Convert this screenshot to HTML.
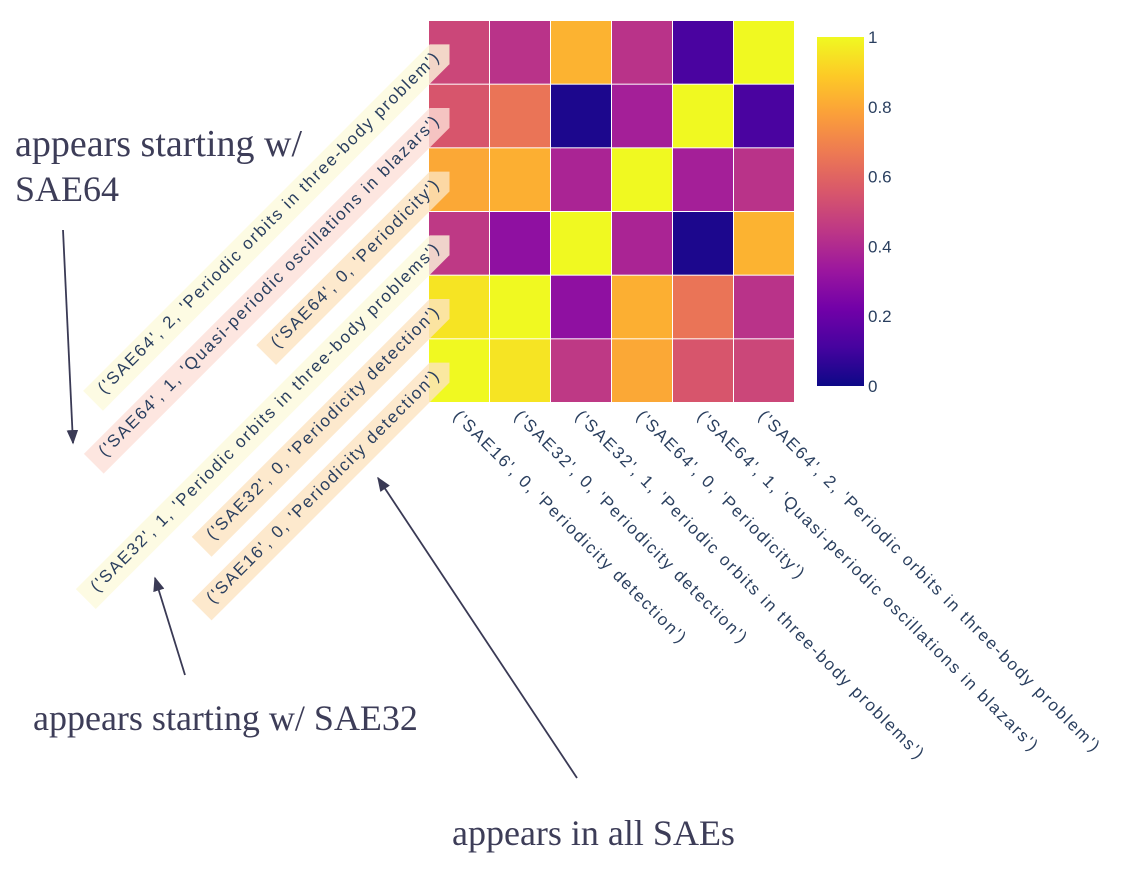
<!DOCTYPE html>
<html><head><meta charset="utf-8"><style>
html,body{margin:0;padding:0;background:#fff;}
svg{display:block;}
.tick{font-family:"Liberation Sans",sans-serif;font-size:17px;letter-spacing:1.75px;fill:#2a3f5f;}
.cbt{font-family:"Liberation Sans",sans-serif;font-size:17px;fill:#2a3f5f;}
.ann{font-family:"Liberation Serif",serif;font-size:36px;fill:#3d3d58;}
</style></head><body>
<svg id="chart" width="1134" height="873" viewBox="0 0 1134 873" xmlns="http://www.w3.org/2000/svg">
<defs>
<linearGradient id="plasma" x1="0" y1="1" x2="0" y2="0">
<stop offset="0" stop-color="#0d0887"/><stop offset="0.111" stop-color="#46039f"/><stop offset="0.222" stop-color="#7201a8"/><stop offset="0.333" stop-color="#9c179e"/><stop offset="0.444" stop-color="#bd3786"/><stop offset="0.556" stop-color="#d8576b"/><stop offset="0.667" stop-color="#ed7953"/><stop offset="0.778" stop-color="#fb9f3a"/><stop offset="0.889" stop-color="#fdca26"/><stop offset="1" stop-color="#f0f921"/>
</linearGradient>
<marker id="ah" viewBox="0 0 10 10" refX="9" refY="5" markerWidth="8" markerHeight="8" orient="auto-start-reverse"><path d="M0,1 L10,5 L0,9 z" fill="#3a3a55"/></marker>
</defs>
<g id="cells"></g>
<g id="bands"></g>
<g id="ylabels"></g>
<g id="xlabels"></g>
<rect x="817" y="37" width="47" height="349" fill="url(#plasma)"/>
<g id="cbticks"></g>
<text class="ann" x="15" y="156" style="font-size:38px">appears starting w/</text>
<text class="ann" x="15" y="201">SAE64</text>
<text class="ann" x="33" y="730">appears starting w/ SAE32</text>
<text class="ann" x="452" y="845">appears in all SAEs</text>
<line x1="63" y1="230" x2="73" y2="443" stroke="#3a3a55" stroke-width="1.8" marker-end="url(#ah)"/>
<line x1="185" y1="675" x2="155" y2="578" stroke="#3a3a55" stroke-width="1.8" marker-end="url(#ah)"/>
<line x1="577" y1="778" x2="378" y2="478" stroke="#3a3a55" stroke-width="1.8" marker-end="url(#ah)"/>
</svg>
<script>
const categories = ["('SAE16', 0, 'Periodicity detection')","('SAE32', 0, 'Periodicity detection')","('SAE32', 1, 'Periodic orbits in three-body problems')","('SAE64', 0, 'Periodicity')","('SAE64', 1, 'Quasi-periodic oscillations in blazars')","('SAE64', 2, 'Periodic orbits in three-body problem')"];
// rows bottom (index 0) to top
const values = [
 [1.00,0.95,0.45,0.80,0.55,0.50],
 [0.95,1.00,0.30,0.82,0.65,0.43],
 [0.45,0.30,1.00,0.38,0.03,0.83],
 [0.80,0.82,0.38,1.00,0.36,0.43],
 [0.55,0.65,0.03,0.36,1.00,0.12],
 [0.50,0.43,0.83,0.43,0.12,1.00]
];
const bandColors = ["#fde3c0","#fde3c0","#fdfadc","#fde3c0","#fde0d8","#fdfadc"];
const cbTicks = [0,0.2,0.4,0.6,0.8,1];
const cbLabels = ["0","0.2","0.4","0.6","0.8","1"];

const NS="http://www.w3.org/2000/svg";
const X0=429,X1=795,Y0=21,Y1=403,CB0=386,CB1=37;
const n=categories.length, cw=(X1-X0)/n, ch=(Y1-Y0)/n;
const xPos=i=>X0+i*cw, yPos=r=>Y1-(r+1)*ch, cbY=v=>CB0+(CB1-CB0)*v;
const stops=["#0d0887","#46039f","#7201a8","#9c179e","#bd3786","#d8576b","#ed7953","#fb9f3a","#fdca26","#f0f921"];
function hex(h){return [1,3,5].map(i=>parseInt(h.substr(i,2),16));}
function color(v){v=Math.max(0,Math.min(1,v));const t=v*(stops.length-1),i=Math.min(Math.floor(t),stops.length-2),f=t-i;const a=hex(stops[i]),b=hex(stops[i+1]);return "rgb("+a.map((c,k)=>Math.round(c+(b[k]-c)*f)).join(",")+")";}
function mk(tag,attrs,parent){const e=document.createElementNS(NS,tag);for(const k in attrs)e.setAttribute(k,attrs[k]);parent.appendChild(e);return e;}
const cells=document.getElementById('cells');
for(let r=0;r<n;r++)for(let c=0;c<n;c++){
 const e=mk('rect',{x:xPos(c),y:yPos(r),width:cw-1,height:ch-1,fill:color(values[r][c])},cells);
 
 
}
const yl=document.getElementById('ylabels'), bands=document.getElementById('bands');
for(let r=0;r<n;r++){
 const cy=yPos(r)+ch/2;
 const t=mk('text',{class:'tick',x:0,y:0,'text-anchor':'end',transform:`translate(441,${cy+5}) rotate(-45)`},yl);
 t.textContent=categories[r];
 
 
 const w=t.getComputedTextLength();
 const b=mk('polygon',{points:`${-w-16},-14 -2,-14 12,0 -2,14 ${-w-16},14`,fill:bandColors[r],opacity:0.8,transform:`translate(441,${cy}) rotate(-45)`},bands);
 
 
}
const xl=document.getElementById('xlabels');
for(let c=0;c<n;c++){
 const t=mk('text',{class:'tick',x:0,y:0,'text-anchor':'start',transform:`translate(${xPos(c)+cw/2-7},${Y1+14}) rotate(45)`},xl);
 t.textContent=categories[c];
 
 
}
const cbt=document.getElementById('cbticks');
cbTicks.forEach((v,i)=>{
 const t=mk('text',{class:'cbt',x:868,y:cbY(v)+6},cbt);
 t.textContent=cbLabels[i];
 
 
});
</script>
</body></html>
